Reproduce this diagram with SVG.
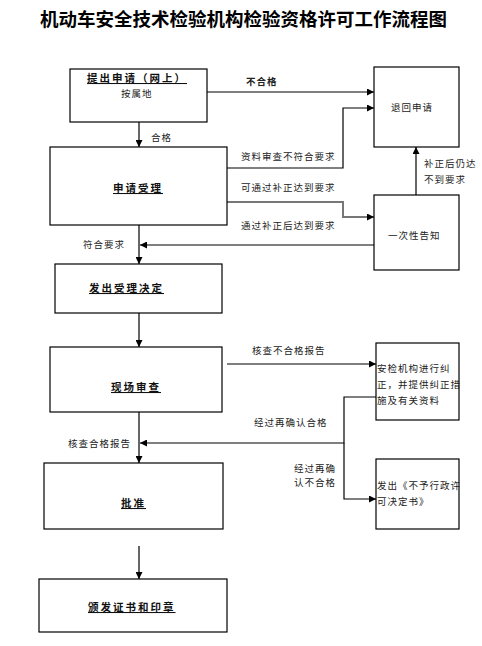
<svg xmlns="http://www.w3.org/2000/svg" width="482" height="646" viewBox="0 0 482 646">
<defs>
<marker id="ah" viewBox="0 0 10 10" refX="10" refY="5" markerWidth="7" markerHeight="7" markerUnits="userSpaceOnUse" orient="auto"><path d="M0,0 L10,5 L0,10 z" fill="#000"/></marker>
<style>
.box{fill:#fff;stroke:#000;stroke-width:1.2}
.t{font-family:"Noto Sans CJK SC","Liberation Sans",sans-serif;font-size:9.5px;letter-spacing:1px;fill:#222}
.b{font-family:"Noto Sans CJK SC","Liberation Sans",sans-serif;font-size:10.5px;font-weight:bold;letter-spacing:2px;fill:#111;text-decoration:underline}
.title{font-family:"Noto Sans CJK SC","Liberation Sans",sans-serif;font-size:18.5px;font-weight:bold;fill:#000}
.c{fill:none;stroke:#000;stroke-width:1.2}
.g{fill:none;stroke:#777;stroke-width:2}
</style>
</defs>
<rect width="482" height="646" fill="#fff"/>
<text class="title" x="40" y="26">机动车安全技术检验机构检验资格许可工作流程图</text>

<g id="connectors">
<line class="c" x1="139" y1="122" x2="139" y2="147" marker-end="url(#ah)"/>
<line class="c" x1="207" y1="92" x2="374" y2="92" marker-end="url(#ah)"/>
<polyline class="c" points="227,168 343,168 343,108 374,108" marker-end="url(#ah)"/>
<polyline class="g" points="227,202 343,202 343,217 374,217" marker-end="url(#ah)"/>
<line class="c" x1="416" y1="195" x2="416" y2="147" marker-end="url(#ah)"/>
<line class="c" x1="374" y1="245" x2="140" y2="245" marker-end="url(#ah)"/>
<line class="c" x1="139" y1="225" x2="139" y2="264" marker-end="url(#ah)"/>
<line class="c" x1="139" y1="313" x2="139" y2="347" marker-end="url(#ah)"/>
<line class="c" x1="227" y1="364" x2="376" y2="364" marker-end="url(#ah)"/>
<polyline class="c" points="376,397 344,397 344,443 140,443" marker-end="url(#ah)"/>
<polyline class="c" points="344,443 344,499 376,499" marker-end="url(#ah)"/>
<line class="c" x1="139" y1="412" x2="139" y2="463" marker-end="url(#ah)"/>
<line class="c" x1="139" y1="546" x2="139" y2="579" marker-end="url(#ah)"/>
<text class="t" x="246" y="85" style="font-weight:bold">不合格</text>
<text class="t" x="151" y="141">合格</text>
<text class="t" x="241" y="160">资料审查不符合要求</text>
<text class="t" x="241" y="191">可通过补正达到要求</text>
<text class="t" x="241" y="229">通过补正后达到要求</text>
<text class="t" x="424" y="167">补正后仍达</text>
<text class="t" x="424" y="183">不到要求</text>
<text class="t" x="83" y="248">符合要求</text>
<text class="t" x="252" y="354">核查不合格报告</text>
<text class="t" x="254" y="426">经过再确认合格</text>
<text class="t" x="68" y="447">核查合格报告</text>
<text class="t" x="294" y="472">经过再确</text>
<text class="t" x="294" y="486">认不合格</text>
</g>

<g id="n1"><rect class="box" x="70" y="69" width="137" height="53"/>
<text class="b" x="87" y="82">提出申请（网上）</text>
<text class="t" x="121" y="97">按属地</text></g>

<g id="n2"><rect class="box" x="374" y="67" width="85" height="80"/>
<text class="t" x="391" y="111">退回申请</text></g>

<g id="n3"><rect class="box" x="50" y="147" width="177" height="78"/>
<text class="b" x="113" y="192">申请受理</text></g>

<g id="n4"><rect class="box" x="374" y="195" width="85" height="75"/>
<text class="t" x="388" y="239">一次性告知</text></g>

<g id="n5"><rect class="box" x="55" y="264" width="167" height="49"/>
<text class="b" x="89" y="292">发出受理决定</text></g>

<g id="n6"><rect class="box" x="50" y="347" width="172" height="65"/>
<text class="b" x="111" y="391">现场审查</text></g>

<g id="n7"><rect class="box" x="376" y="343" width="83" height="77"/>
<text class="t" x="377" y="372">安检机构进行纠</text>
<text class="t" x="377" y="388">正，并提供纠正措</text>
<text class="t" x="377" y="404">施及有关资料</text></g>

<g id="n8"><rect class="box" x="44" y="463" width="179" height="66"/>
<text class="b" x="121" y="507">批准</text></g>

<g id="n9"><rect class="box" x="376" y="459" width="83" height="70"/>
<text class="t" x="377" y="489">发出《不予行政许</text>
<text class="t" x="377" y="505">可决定书》</text></g>

<g id="n10"><rect class="box" x="39" y="579" width="188" height="53"/>
<text class="b" x="88" y="611">颁发证书和印章</text></g>
</svg>
